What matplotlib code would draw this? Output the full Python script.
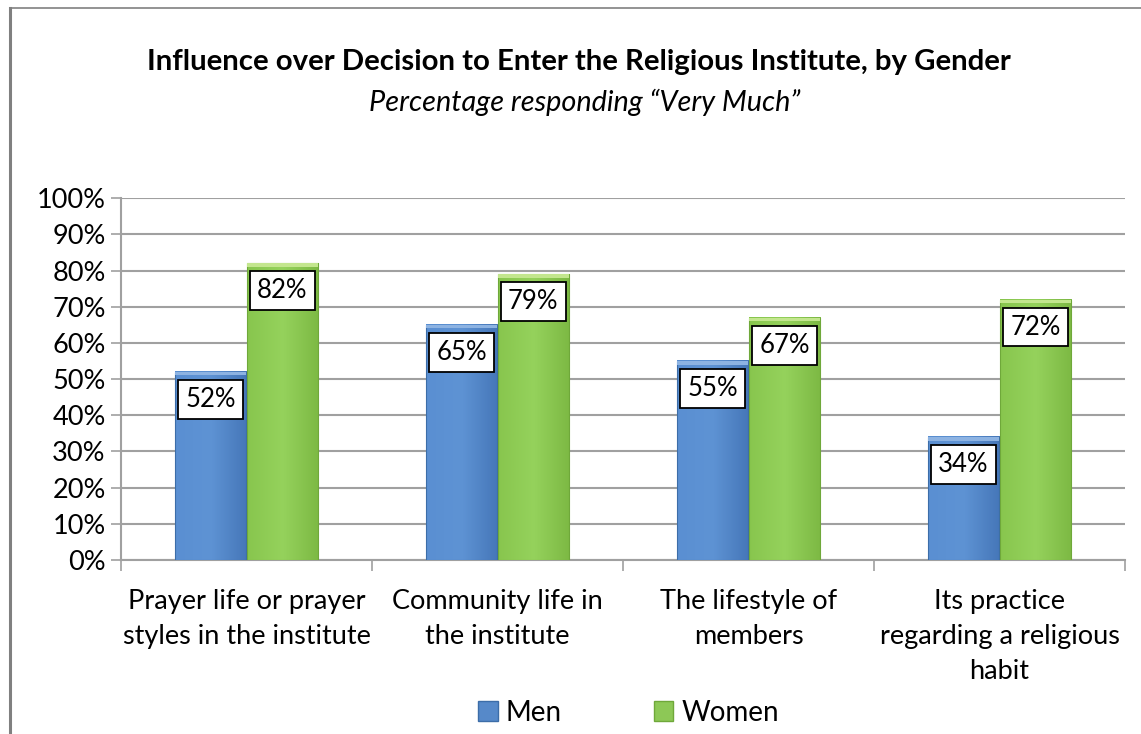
import numpy as np
import matplotlib.pyplot as plt
from matplotlib.patches import Rectangle
from matplotlib.lines import Line2D
from matplotlib.colors import LinearSegmentedColormap

plt.rcParams['font.family'] = ['Lato', 'DejaVu Sans']

categories = ['Prayer life or prayer\nstyles in the institute',
              'Community life in\nthe institute',
              'The lifestyle of\nmembers',
              'Its practice\nregarding a religious\nhabit']
men = [52, 65, 55, 34]
women = [82, 79, 67, 72]
yticks = [0, 10, 20, 30, 40, 50, 60, 70, 80, 90, 100]

men_col = '#5689C9'
men_top = '#8DB3E2'
women_col = '#8DC856'
women_top = '#C3E68E'
men_cmap = LinearSegmentedColormap.from_list('m', ['#5A8FD2', '#5E93D4', '#4677B9'])
women_cmap = LinearSegmentedColormap.from_list('w', ['#88C64E', '#95D25C', '#7DB944'])

fig = plt.figure(figsize=(11.41, 7.34), dpi=100)
ax = fig.add_axes([0.106, 0.237, 0.880, 0.493])

x = np.arange(len(categories))
w = 0.283
off = 0.143
grad = np.linspace(0, 1, 64).reshape(1, -1)

for xs, vals, cmap, top, edge in [(x - off, men, men_cmap, men_top, '#3C6DA8'),
                                   (x + off, women, women_cmap, women_top, '#6FA83A')]:
    bars = ax.bar(xs, vals, width=w, color='none', edgecolor=edge, linewidth=0.8, zorder=4)
    for b in bars:
        ax.imshow(grad, cmap=cmap, aspect='auto', zorder=3, interpolation='bicubic',
                  extent=[b.get_x(), b.get_x() + b.get_width(), 0, b.get_height()])
    ax.bar(xs, [1.0] * len(vals), bottom=[v - 1.0 for v in vals], width=w,
           color=top, edgecolor='none', zorder=4)
    for xi, v in zip(xs, vals):
        ax.text(xi, v - 7.6, f'{v}%', ha='center', va='center', fontsize=18.5, zorder=5,
                bbox=dict(boxstyle='square,pad=0.27', fc='white', ec='black', lw=1.3))

ax.set_xlim(-0.5, len(categories) - 0.5)
ax.set_ylim(0, 100)
ax.set_yticks(yticks)
ax.set_yticklabels([f'{t}%' for t in yticks], fontsize=19.5)
ax.yaxis.grid(True, color='#A0A0A0', linewidth=1.5, zorder=0)
ax.set_axisbelow(True)
ax.tick_params(axis='y', length=7, width=1.2, color='#A0A0A0', pad=4)

ax.set_xticks(x)
ax.set_xticklabels(categories, fontsize=19.5, linespacing=1.5)
ax.tick_params(axis='x', length=0, pad=21)
ax.set_xticks(np.arange(len(categories) + 1) - 0.5, minor=True)
ax.tick_params(axis='x', which='minor', length=8, width=1.2, color='#A0A0A0')

for s in ['top', 'right']:
    ax.spines[s].set_visible(False)
for s in ['left', 'bottom']:
    ax.spines[s].set_color('#A0A0A0')
    ax.spines[s].set_linewidth(1.5)

fig.text(0.507, 0.915, 'Influence over Decision to Enter the Religious Institute, by Gender',
         ha='center', va='center', fontsize=21.2, fontweight='bold')
fig.text(0.512, 0.860, 'Percentage responding \u201cVery Much\u201d',
         ha='center', va='center', fontsize=20.8, style='italic')

handles = [Rectangle((0, 0), 1, 1, fc=men_col, ec='#3C6DA8'),
           Rectangle((0, 0), 1, 1, fc=women_col, ec='#6FA83A')]
fig.legend(handles, ['Men', 'Women'], loc='center', bbox_to_anchor=(0.551, 0.029),
           ncol=2, frameon=False, fontsize=20, handlelength=0.7, handleheight=0.7,
           handletextpad=0.3, columnspacing=3.3)

# outer frame lines of the chart object
fig.add_artist(Line2D([10 / 1141, 10 / 1141], [0, 1 - 8 / 734], transform=fig.transFigure,
                      color='#808080', lw=2.2))
fig.add_artist(Line2D([10 / 1141, 1], [1 - 8 / 734, 1 - 8 / 734], transform=fig.transFigure,
                      color='#808080', lw=1.2))

fig.savefig('out.png', dpi=100)
